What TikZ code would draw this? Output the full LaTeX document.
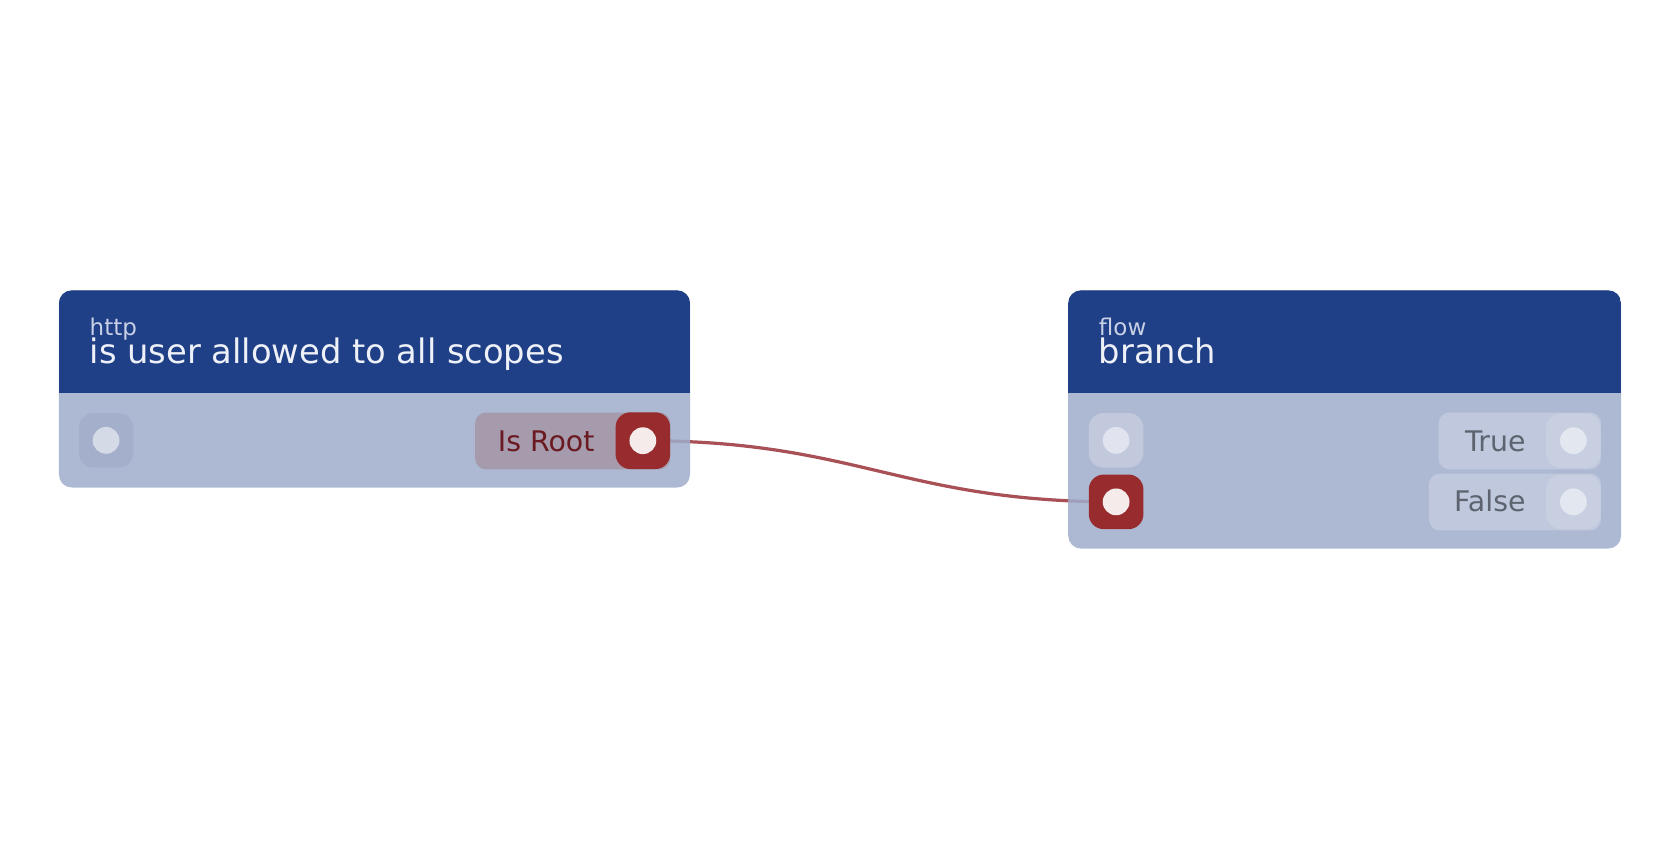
\documentclass[tikz,border=0pt]{standalone}
\usepackage{fontspec}
\setmainfont{DejaVu Sans}
\definecolor{hdrc}{RGB}{31,63,135}
\definecolor{bodyc}{RGB}{159,173,204}
\definecolor{titlec}{RGB}{238,241,248}
\definecolor{catc}{RGB}{200,208,230}
\definecolor{portA}{RGB}{164,176,203}
\definecolor{dotA}{RGB}{212,218,230}
\definecolor{portB}{RGB}{194,201,221}
\definecolor{dotB}{RGB}{225,228,238}
\definecolor{redp}{RGB}{151,43,45}
\definecolor{reddot}{RGB}{245,235,235}
\definecolor{pillred}{RGB}{166,154,173}
\definecolor{redtext}{RGB}{106,26,32}
\definecolor{pillgrey}{RGB}{191,200,220}
\definecolor{portC}{RGB}{200,207,225}
\definecolor{dotC}{RGB}{227,231,240}
\definecolor{greytext}{RGB}{93,100,112}
\definecolor{connc}{RGB}{168,80,85}
\pgfdeclarelayer{canvas}
\pgfdeclarelayer{background}
\pgfsetlayers{canvas,background,main}
\tikzset{
  nodebox/.style={draw=none, fill=bodyc, fill opacity=0.85, rounded corners=12pt,
    anchor=north west, inner sep=0pt, outer sep=0pt,
    path picture={\fill[hdrc, fill opacity=1, sharp corners] (path picture bounding box.north west)
      rectangle ([yshift=-96pt]path picture bounding box.north east);}},
  portbox/.style={rectangle, rounded corners=14pt, minimum width=51pt, minimum height=51pt,
    inner sep=0pt, outer sep=0pt, draw=none},
  dot/.style={circle, minimum size=25pt, inner sep=0pt, draw=none},
  pill/.style={rectangle, rounded corners=10pt, inner sep=0pt, outer sep=0pt, draw=none, anchor=north west},
  cat/.style={font=\fontsize{21.5}{25}\selectfont, text=catc, anchor=base west, inner sep=0pt},
  ttl/.style={font=\fontsize{31.5}{36}\selectfont, text=titlec, anchor=base west, inner sep=0pt},
  lbl/.style={font=\fontsize{26.5}{30}\selectfont, anchor=base east, inner sep=0pt},
  conn/.style={draw=connc, line width=3pt},
}
\begin{document}
\begin{tikzpicture}[x=1pt,y=-1pt]
\begin{pgfonlayer}{canvas}
\fill[white] (0,0) rectangle (1568,784);
\end{pgfonlayer}
\useasboundingbox (0,0) rectangle (1568,784);

% left node
\node[nodebox, minimum width=589pt, minimum height=184pt] (n1) at (55,271) {};
\node[cat] (n1cat) at (83.5,313) {http};
\node[ttl] (n1ttl) at (83.5,339.5) {is user allowed to all scopes};
\node[portbox, fill=portA] (n1in) at (99,411) {};
\node[dot, fill=dotA] (n1indot) at (n1in.center) {};
\node[pill, fill=pillred, minimum width=182pt, minimum height=53pt] (n1pill) at (443.5,385) {};
\node[lbl, text=redtext] (n1lbl) at (555,421) {Is Root};
\node[portbox, fill=redp, minimum height=53pt] (n1out) at (600,411.3) {};
\node[dot, fill=reddot] (n1outdot) at (n1out.center) {};

% right node
\node[nodebox, minimum width=516pt, minimum height=241pt] (n2) at (997,271) {};
\node[cat] (n2cat) at (1025.5,313) {flow};
\node[ttl] (n2ttl) at (1025.5,339.5) {branch};
\node[portbox, fill=portB] (n2in) at (1041.7,411) {};
\node[dot, fill=dotB] (n2indot) at (n2in.center) {};
\node[portbox, fill=redp] (n2in2) at (1041.7,468.4) {};
\node[dot, fill=reddot] (n2in2dot) at (n2in2.center) {};
\node[pill, fill=pillgrey, minimum width=151.5pt, minimum height=53pt] (n2pt) at (1342.7,385) {};
\node[lbl, text=greytext] (n2tlbl) at (1424,421) {True};
\node[portbox, fill=portC] (n2t) at (1468.5,411.3) {};
\node[dot, fill=dotC] (n2tdot) at (n2t.center) {};
\node[pill, fill=pillgrey, minimum width=160.5pt, minimum height=53pt] (n2pf) at (1333.7,442) {};
\node[lbl, text=greytext] (n2flbl) at (1424,477.5) {False};
\node[portbox, fill=portC] (n2f) at (1468.5,468.4) {};
\node[dot, fill=dotC] (n2fdot) at (n2f.center) {};

\begin{pgfonlayer}{background}
\draw[conn] (n1out.center) .. controls +(200,0) and +(-200,0) .. (n2in2.center);
\end{pgfonlayer}
\end{tikzpicture}
\end{document}
